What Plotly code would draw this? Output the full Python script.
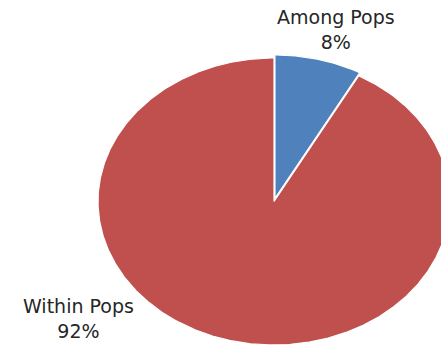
import numpy as np
import plotly.graph_objects as go

# Variance partition (AMOVA)
labels = ["Among Pops", "Within Pops"]
values = [8, 92]
colors = ["#4F81BD", "#C0504D"]
explode = [0.022, 0.0]  # outward offset of each slice, in radius units

W, H = 441, 347
# pie centre and radii in pixels (flattened, tilted look)
CX, CY, RX, RY = 274.0, 201.5, 176.0, 143.5

total = float(sum(values))
fig = go.Figure()

# slices run clockwise from 12 o'clock
start = 0.0
for lab, val, col, ex in zip(labels, values, colors, explode):
    frac = val / total
    a0 = start * 2 * np.pi
    a1 = (start + frac) * 2 * np.pi
    mid = (a0 + a1) / 2
    ox, oy = ex * np.sin(mid), ex * np.cos(mid)
    t = np.linspace(a0, a1, max(int(frac * 720), 8))
    xs = np.concatenate([[ox], ox + np.sin(t), [ox]])
    ys = np.concatenate([[oy], oy + np.cos(t), [oy]])
    fig.add_trace(go.Scatter(
        x=xs, y=ys, mode="lines", fill="toself", fillcolor=col,
        line=dict(color="white", width=1.2), name=lab,
        hoverinfo="name", showlegend=False,
    ))
    start += frac

# axis ranges map unit circle onto the ellipse in pixel space
xr = [(0 - CX) / RX, (W - CX) / RX]
yr = [(CY - H) / RY, (CY - 0) / RY]

fig.update_xaxes(range=xr, visible=False, fixedrange=True)
fig.update_yaxes(range=yr, visible=False, fixedrange=True)

# data labels: name + percentage
label_pos = [(336, 30), (78, 318)]
font = dict(family="DejaVu Sans", size=19, color="#262626")
for lab, val, (px, py) in zip(labels, values, label_pos):
    pct = round(val / total * 100)
    fig.add_annotation(
        x=px / W, y=1 - py / H, xref="paper", yref="paper",
        text=f"{lab}<br>{pct}%", showarrow=False,
        xanchor="center", yanchor="middle", align="center", font=font,
    )

fig.update_layout(
    width=W, height=H,
    margin=dict(l=0, r=0, t=0, b=0),
    paper_bgcolor="white", plot_bgcolor="white",
)

fig.write_html("out.html")
